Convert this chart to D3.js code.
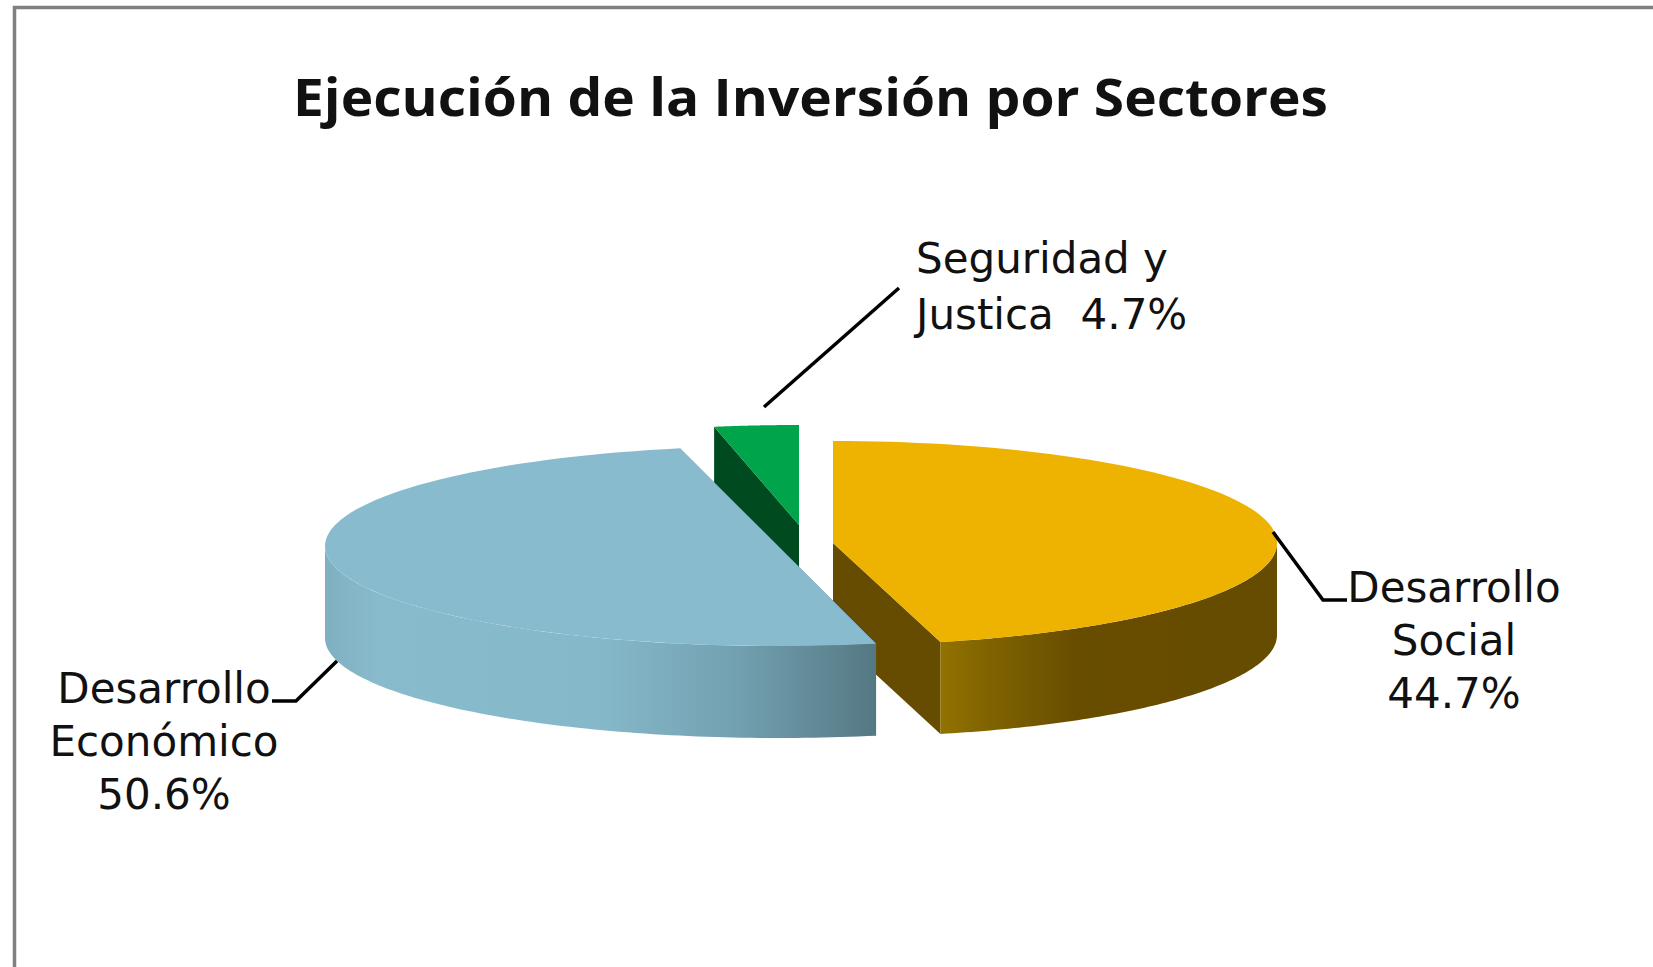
<!DOCTYPE html>
<html>
<head>
<meta charset="utf-8">
<script src="https://cdn.jsdelivr.net/npm/d3@7"></script>
<style>
  html, body { margin: 0; background: #fff; overflow: hidden; }
  text { fill: #111; }
</style>
</head>
<body>
<div id="chart"></div>
<script>
const titleText = "Ejecución de la Inversión por Sectores";
const sectors = ["Desarrollo Social", "Desarrollo Económico", "Seguridad y Justica"];
const shares = [44.7, 50.6, 4.7];
const labelLines = [
  ["Desarrollo", "Social", "44.7%"],
  ["Desarrollo", "Económico", "50.6%"],
  ["Seguridad y", "Justica  4.7%"]
];

const width = 1653, height = 967;
const depth = 92;

// per slice geometry: exploded centre, ellipse radii, small angle nudge (degrees) from the 3D view
const sliceStyle = [
  { cx: 833, cy: 543, rx: 444, ry: 102, nudge: [0, -1], top: "#edb300", cut: "#664c00", wall: "wallGold" },
  { cx: 778, cy: 546, rx: 453, ry: 100, nudge: [0.5, -0.5], top: "#88bbce", cut: "#567a85", wall: "wallBlue" },
  { cx: 799, cy: 525, rx: 453, ry: 100, nudge: [1.2, 0], top: "#00a44a", cut: "#004a20", wall: "wallGreen" }
];
const labelStyle = [
  { x: 1454, y: 602, step: 53, anchor: "middle", leader: [[1273, 532], [1323, 600], [1347, 600]] },
  { x: 164, y: 703, step: 53, anchor: "middle", leader: [[337, 661], [296, 701], [272, 701]] },
  { x: 916, y: 273, step: 56, anchor: "start", leader: [[764, 407], [899, 288]] }
];

const svg = d3.select("#chart").append("svg").attr("width", width).attr("height", height)
  .style("display", "block");

// picture frame, only top and left are in the crop
svg.append("path").attr("d", `M14.5,${height}V7.5H${width}`)
  .attr("fill", "none").attr("stroke", "#808080").attr("stroke-width", 3.5);

svg.append("text").attr("x", 293).attr("y", 116)
  .attr("font-family", "'Open Sans'").attr("font-weight", 700).attr("font-size", 52)
  .attr("textLength", 1035).attr("lengthAdjust", "spacingAndGlyphs")
  .text(titleText);

const defs = svg.append("defs");
function addGradient(id, x1, x2, stops) {
  const g = defs.append("linearGradient").attr("id", id).attr("gradientUnits", "userSpaceOnUse")
    .attr("x1", x1).attr("x2", x2).attr("y1", 0).attr("y2", 0);
  stops.forEach(s => g.append("stop").attr("offset", s[0]).attr("stop-color", s[1]));
}
addGradient("wallGold", 941, 1277, [[0, "#917200"], [0.15, "#7f6200"], [0.4, "#684d00"], [1, "#664c00"]]);
addGradient("wallBlue", 325, 877, [[0, "#7fb0c1"], [0.1, "#88bbcc"], [0.5, "#85b8c9"], [0.75, "#72a0b0"], [1, "#547883"]]);
addGradient("wallGreen", 713, 799, [[0, "#004a20"], [1, "#004a20"]]);

const pie = d3.pie().sort(null).value(d => d);
const arcs = pie(shares);

// the 3D view squeezes the front and back of the pie, so pie angles are warped a bit
const toRad = Math.PI / 180;
const warp = d3.scaleLinear()
  .domain([0, arcs[0].endAngle, arcs[1].endAngle, 2 * Math.PI])
  .range([0, 167 * toRad, 348 * toRad, 2 * Math.PI]);

const line = d3.line();
function rim(st, a0, a1, dy) {
  const n = 90;
  return d3.range(n + 1).map(i => {
    const t = a0 + (a1 - a0) * i / n;
    return [st.cx + st.rx * Math.sin(t), st.cy + dy - st.ry * Math.cos(t)];
  });
}

const slices = arcs.map((d, i) => ({
  st: sliceStyle[i],
  a0: warp(d.startAngle) + sliceStyle[i].nudge[0] * toRad,
  a1: warp(d.endAngle) + sliceStyle[i].nudge[1] * toRad,
  name: sectors[i]
}));

// back to front: green, gold, blue
[2, 0, 1].forEach(i => {
  const { st, a0, a1, name } = slices[i];
  const g = svg.append("g").attr("class", "slice").attr("data-name", name);
  const centre = [st.cx, st.cy];
  const centreLow = [st.cx, st.cy + depth];

  // cut faces
  [a0, a1].forEach(a => {
    const p = rim(st, a, a, 0)[0];
    g.append("path").attr("fill", st.cut)
      .attr("d", line([centre, p, [p[0], p[1] + depth], centreLow]) + "Z");
  });

  // outer wall, only what faces the viewer
  const w0 = Math.max(a0, Math.PI / 2), w1 = Math.min(a1, 3 * Math.PI / 2);
  if (w1 > w0) {
    const upper = rim(st, w0, w1, 0), lower = rim(st, w1, w0, depth);
    g.append("path").attr("fill", `url(#${st.wall})`).attr("d", line(upper.concat(lower)) + "Z");
  }

  // top face
  g.append("path").attr("fill", st.top)
    .attr("d", line([centre].concat(rim(st, a0, a1, 0))) + "Z");
});

// leaders and labels
labelLines.forEach((lines, i) => {
  const ls = labelStyle[i];
  svg.append("path").attr("d", line(ls.leader))
    .attr("fill", "none").attr("stroke", "#000").attr("stroke-width", 3.5);
  const t = svg.append("text")
    .attr("font-family", "'DejaVu Sans'").attr("font-size", 42)
    .attr("text-anchor", ls.anchor).style("white-space", "pre");
  lines.forEach((s, k) => {
    t.append("tspan").attr("x", ls.x).attr("y", ls.y + k * ls.step).text(s);
  });
});
</script>
</body>
</html>
